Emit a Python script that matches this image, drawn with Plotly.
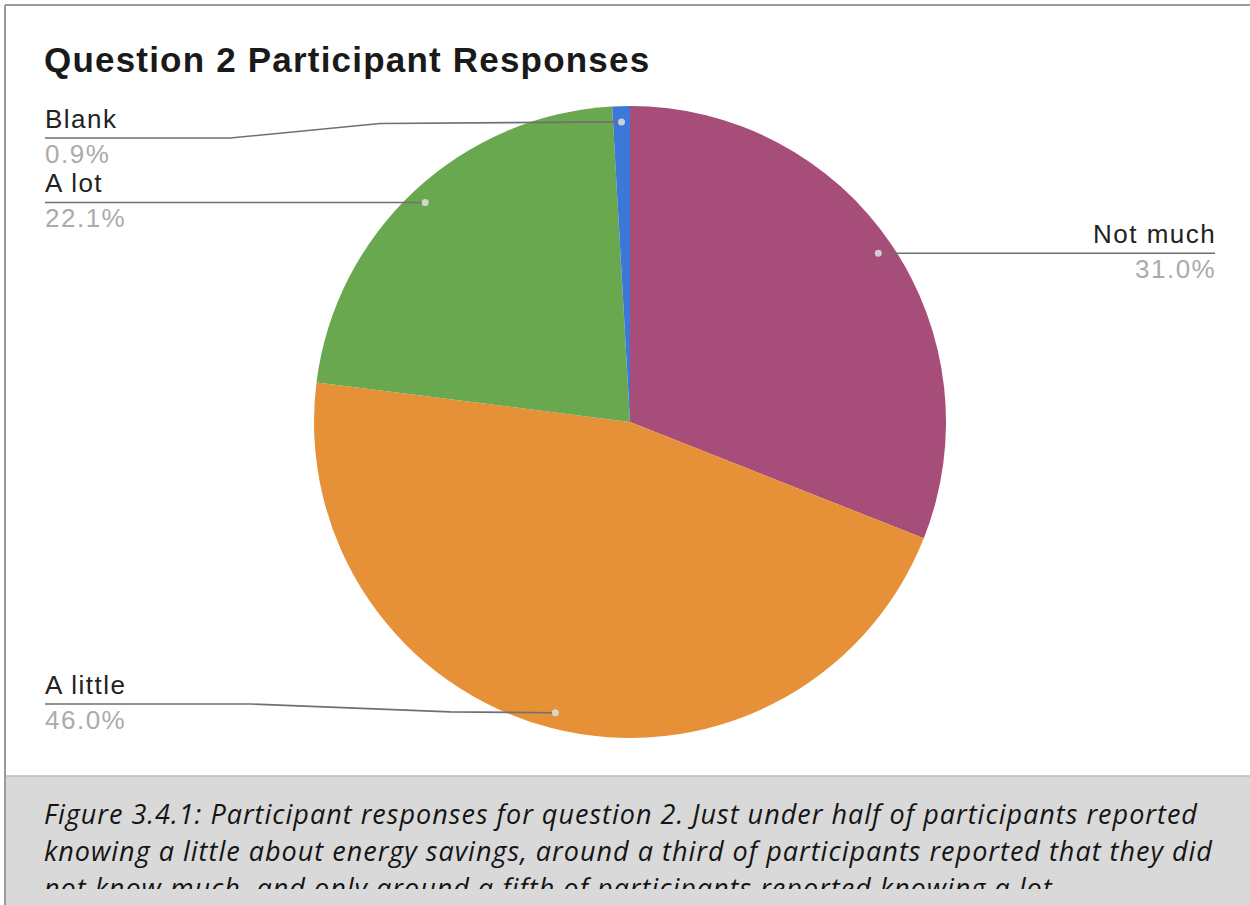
import math
import plotly.graph_objects as go

# Survey answers, clockwise from 12 o'clock
categories = ["Not much", "A little", "A lot", "Blank"]
shares = [31.0, 46.0, 22.1, 0.9]  # percent of participants
colors = ["#A64D79", "#E69138", "#6AA84F", "#3C78D8"]

title_text = "Question 2 Participant Responses"
caption_lines = [
    "<i>Figure 3.4.1:</i><i> Participant responses for question 2. Just under half of participants reported</i>",
    "<i>knowing a little about energy savings, around a third of participants reported that they did</i>",
    "<i>not know much, and only around a fifth of participants reported knowing a lot.</i>",
]

# Page geometry (pixels)
W, H = 1250, 905
PIE_CX, PIE_CY, PIE_R = 630, 422, 316
DOT_FRAC = 0.95

# Callout layout: side, row of the leader line (None = level with dot), bend points
callouts = {
    "Not much": dict(side="right", row=None, bends=None),
    "A little": dict(side="left", row=704, bends=(450, 250)),
    "A lot": dict(side="left", row=None, bends=None),
    "Blank": dict(side="left", row=138, bends=(380, 230)),
}
LEFT_X, RIGHT_X = 45, 1215
LABEL_FS = 26
LABEL_FONT = "Liberation Sans, Arial, sans-serif"


def spaced(text, px):
    return f'<span style="letter-spacing:{px}px">{text}</span>'


fig = go.Figure()

# Invisible pixel-unit axes spanning the page, used to place the callouts
fig.add_trace(go.Scatter(x=[0, W], y=[0, H], mode="markers",
                         marker=dict(opacity=0), hoverinfo="skip", showlegend=False))

fig.add_trace(go.Pie(
    labels=categories, values=shares, sort=False, direction="clockwise", rotation=0,
    marker=dict(colors=colors, line=dict(width=0)),
    textinfo="none", hoverinfo="skip", showlegend=False,
    domain=dict(x=[(PIE_CX - PIE_R) / W, (PIE_CX + PIE_R) / W],
                y=[1 - (PIE_CY + PIE_R) / H, 1 - (PIE_CY - PIE_R) / H]),
))

shapes = []
annotations = []

# Caption panel
shapes.append(dict(type="rect", xref="x", yref="y", x0=6, x1=W + 5, y0=776, y1=H + 5,
                   fillcolor="#d9d9d9", line=dict(width=0), layer="below"))
shapes.append(dict(type="line", xref="x", yref="y", x0=6, x1=W, y0=776, y1=776,
                   line=dict(color="#bdbdbd", width=1.5), layer="below"))
# Frame
shapes.append(dict(type="line", xref="x", yref="y", x0=5, x1=W, y0=5, y1=5,
                   line=dict(color="#9a9a9a", width=2), layer="above"))
shapes.append(dict(type="line", xref="x", yref="y", x0=5, x1=5, y0=5, y1=H,
                   line=dict(color="#9a9a9a", width=2), layer="above"))

# Callouts: dot at each slice's mid-angle, leader line, name and percentage
total = sum(shares)
cum = 0.0
for name, val in zip(categories, shares):
    mid = (cum + val / 2) / total * 2 * math.pi
    cum += val
    dx = PIE_CX + DOT_FRAC * PIE_R * math.sin(mid)
    dy = PIE_CY - DOT_FRAC * PIE_R * math.cos(mid)
    cfg = callouts[name]
    row = dy if cfg["row"] is None else cfg["row"]
    end_x = RIGHT_X if cfg["side"] == "right" else LEFT_X

    pts = [(dx, dy)]
    if cfg["bends"] is not None:
        b1, b2 = cfg["bends"]
        pts += [(b1, dy + (row - dy) * 0.1), (b2, row)]
    pts.append((end_x, row))
    path = "M " + " L ".join(f"{px:.1f},{py:.1f}" for px, py in pts)
    shapes.append(dict(type="path", xref="x", yref="y", path=path,
                       line=dict(color="#707070", width=1.6), layer="above"))
    shapes.append(dict(type="circle", xref="x", yref="y", x0=dx - 3.5, x1=dx + 3.5,
                       y0=dy - 3.5, y1=dy + 3.5, fillcolor="rgba(225,225,225,0.85)",
                       line=dict(width=0), layer="above"))

    anchor = "right" if cfg["side"] == "right" else "left"
    ax = end_x + (3 if anchor == "right" else -2)
    annotations.append(dict(x=ax, y=row - 10 - 0.35 * LABEL_FS, xref="x", yref="y",
                            text=spaced(name, 1.5), showarrow=False, xanchor=anchor, yanchor="middle",
                            font=dict(family=LABEL_FONT, size=LABEL_FS, color="#222222")))
    annotations.append(dict(x=ax, y=row + 25 - 0.35 * LABEL_FS, xref="x", yref="y",
                            text=spaced(f"{val:.1f}%", 1.5), showarrow=False, xanchor=anchor,
                            yanchor="middle",
                            font=dict(family=LABEL_FONT, size=LABEL_FS, color="#ababab")))

# Title
annotations.append(dict(x=42, y=72 - 0.35 * 35, xref="x", yref="y",
                        text=f"<b>{spaced(title_text, 1.2)}</b>",
                        showarrow=False, xanchor="left", yanchor="middle",
                        font=dict(family=LABEL_FONT, size=35, color="#1a1a1a")))

# Caption text
CAP_FS = 27
for i, line in enumerate(caption_lines):
    annotations.append(dict(x=42, y=821 + 37 * i - 0.27 * CAP_FS, xref="x", yref="y",
                            text=spaced(line, 1.0),
                            showarrow=False, xanchor="left", yanchor="middle",
                            font=dict(family="Open Sans, sans-serif", size=CAP_FS, color="#141414")))
# The caption panel cuts off the last line part way down
annotations.append(dict(x=7, y=889, xref="x", yref="y", text=" ", showarrow=False,
                        xanchor="left", yanchor="top", width=W, height=H - 889 + 5,
                        bgcolor="#d9d9d9", borderpad=0, borderwidth=0))

fig.update_layout(
    width=W, height=H,
    margin=dict(l=0, r=0, t=0, b=0),
    paper_bgcolor="white", plot_bgcolor="rgba(0,0,0,0)",
    xaxis=dict(range=[0, W], visible=False, fixedrange=True, domain=[0, 1]),
    yaxis=dict(range=[H, 0], visible=False, fixedrange=True, domain=[0, 1]),
    shapes=shapes, annotations=annotations,
    showlegend=False,
)

fig.write_html("out.html", config={"displayModeBar": False})
